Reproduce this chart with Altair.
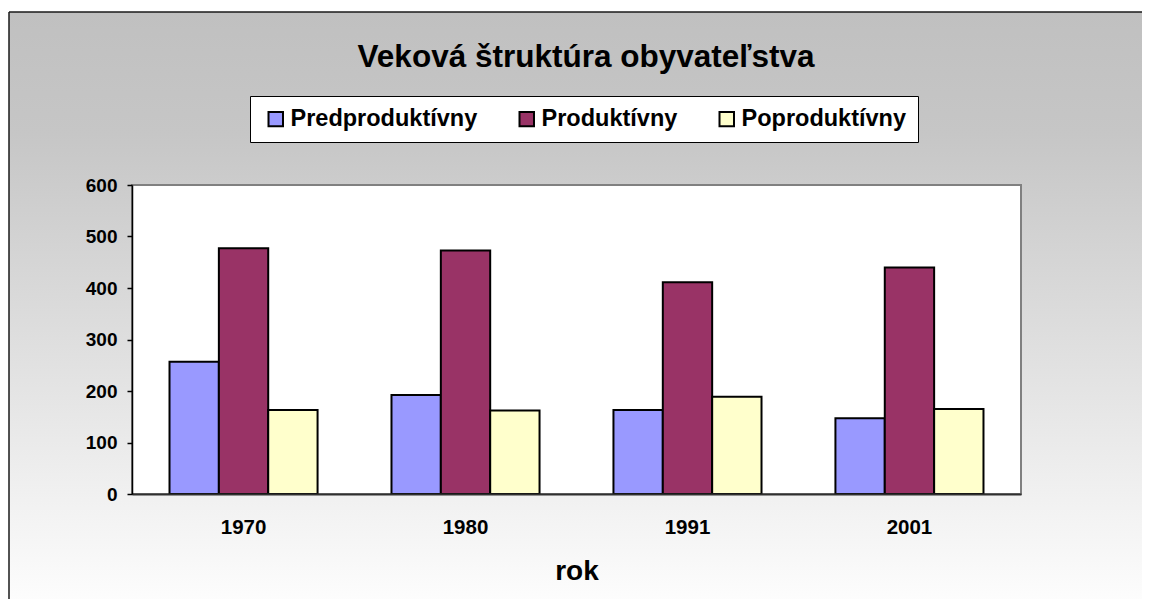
import altair as alt
import pandas as pd

# ---- data ----
roky = ["1970", "1980", "1991", "2001"]
skupiny = ["Predproduktívny", "Produktívny", "Poproduktívny"]
predproduktivny = [257, 192, 163, 147]
produktivny = [477, 473, 411, 440]
poproduktivny = [163, 162, 189, 165]
farby = ["#9999FF", "#993366", "#FFFFCC"]
y_ticks = [0, 100, 200, 300, 400, 500, 600]
nadpis = "Veková štruktúra obyvateľstva"
os_x_nazov = "rok"

rows = []
for i, r in enumerate(roky):
    for s, vals in zip(skupiny, [predproduktivny, produktivny, poproduktivny]):
        rows.append({"rok": r, "skupina": s, "hodnota": vals[i]})
df = pd.DataFrame(rows)

FONT = "Liberation Sans"
W, H = 889, 309
PAD_L, PAD_T, PAD_R, PAD_B = 124, 177, 121, 105

one = alt.Data(values=[{"a": 1}])

# chart background (gradient)
bg = alt.Chart(one).mark_rect(
    fill=alt.Gradient(
        gradient="linear",
        stops=[alt.GradientStop(color="#c0c0c0", offset=0),
               alt.GradientStop(color="#c6c6c6", offset=0.2),
               alt.GradientStop(color="#ffffff", offset=1)],
        x1=0, x2=0, y1=0, y2=1),
    strokeWidth=0,
).encode(
    x=alt.value(-123), x2=alt.value(W + PAD_R + 20),
    y=alt.value(-173), y2=alt.value(H + PAD_B + 20),
)

# outer frame: top and left edges only (others are outside the picture)
frame_top = alt.Chart(one).mark_rule(color="#1a1a1a", strokeWidth=1.5).encode(
    x=alt.value(-123), x2=alt.value(W + PAD_R + 20), y=alt.value(-173))
frame_left = alt.Chart(one).mark_rule(color="#1a1a1a", strokeWidth=1.5).encode(
    x=alt.value(-123), y=alt.value(-173), y2=alt.value(H + PAD_B + 20))

# plot area
plot_bg = alt.Chart(one).mark_rect(
    fill="white", stroke="#808080", strokeWidth=2
).encode(x=alt.value(0), x2=alt.value(W), y=alt.value(0), y2=alt.value(H))

bars = alt.Chart(df).mark_bar(stroke="black", strokeWidth=2, opacity=1).encode(
    x=alt.X("rok:N", sort=roky,
            scale=alt.Scale(paddingInner=0.333, paddingOuter=0.169),
            axis=alt.Axis(title=os_x_nazov, labelAngle=0, ticks=False, tickSize=0,
                          labelFont=FONT, labelFontSize=20.5, labelFontWeight="bold",
                          labelColor="black", labelPadding=23,
                          domainColor="#303030", domainWidth=2,
                          titleFont=FONT, titleFontSize=28, titleFontWeight="bold",
                          titleColor="black", titlePadding=20, zindex=1)),
    xOffset=alt.XOffset("skupina:N", sort=skupiny,
                        scale=alt.Scale(paddingInner=0, paddingOuter=0)),
    y=alt.Y("hodnota:Q",
            scale=alt.Scale(domain=[0, 600], nice=False),
            axis=alt.Axis(title=None, values=y_ticks, grid=False,
                          labelFont=FONT, labelFontSize=19, labelFontWeight="bold",
                          labelColor="black", labelPadding=10,
                          tickColor="black", tickSize=5, tickWidth=1.5,
                          domainColor="black", domainWidth=1.5, zindex=1)),
    color=alt.Color("skupina:N", sort=skupiny,
                    scale=alt.Scale(domain=skupiny, range=farby),
                    legend=alt.Legend(
                        title=None, orient="none", direction="horizontal",
                        legendX=118, legendY=-89,
                        fillColor="white", strokeColor="black",
                        padding=11, symbolType="square", symbolSize=210,
                        symbolStrokeColor="black", symbolStrokeWidth=2,
                        symbolOffset=3, labelOffset=3, columnPadding=34,
                        labelLimit=400,
                        labelFont=FONT, labelFontSize=23.5, labelFontWeight="bold",
                        labelColor="black", zindex=1)),
)

title = alt.Chart(alt.Data(values=[{"t": nadpis}])).mark_text(
    font=FONT, fontSize=31.5, fontWeight="bold", color="black",
    align="center", baseline="alphabetic",
).encode(text="t:N", x=alt.value(454), y=alt.value(-118))

chart = alt.layer(bg, frame_top, frame_left, plot_bg, bars, title).properties(
    width=W, height=H,
    autosize=alt.AutoSizeParams(type="none"),
    padding={"left": PAD_L, "top": PAD_T, "right": PAD_R, "bottom": PAD_B},
).configure_view(strokeWidth=0).configure(background="white")

chart.save("out.html", embed_options={"renderer": "svg", "actions": False})
